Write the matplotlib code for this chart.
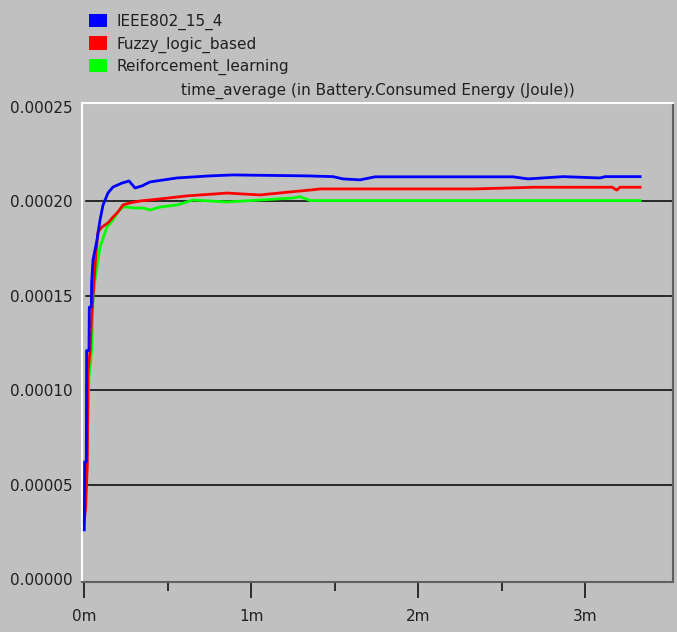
import matplotlib
matplotlib.use('Agg')
import matplotlib.pyplot as plt
from matplotlib.patches import Patch
from matplotlib.ticker import FixedLocator, FuncFormatter

# time in minutes, values in 1e-4 Joule
t_ieee = [0.0, 0.002, 0.012, 0.014, 0.028, 0.030, 0.042, 0.044, 0.052, 0.076, 0.094,
          0.112, 0.142, 0.172, 0.226, 0.268, 0.304, 0.346, 0.394, 0.555, 0.753, 0.891,
          1.334, 1.490, 1.550, 1.652, 1.742, 2.569, 2.659, 2.868, 3.090, 3.120, 3.330]
v_ieee = [0.26, 0.62, 0.62, 1.21, 1.21, 1.44, 1.44, 1.57, 1.69, 1.795, 1.90,
          1.98, 2.045, 2.076, 2.097, 2.108, 2.071, 2.082, 2.103, 2.124, 2.135, 2.140,
          2.135, 2.131, 2.119, 2.114, 2.130, 2.130, 2.119, 2.131, 2.124, 2.131, 2.131]

t_fuzzy = [0.0, 0.008, 0.018, 0.022, 0.034, 0.044, 0.060, 0.070, 0.082, 0.106, 0.142,
           0.172, 0.202, 0.232, 0.274, 0.334, 0.454, 0.615, 0.855, 1.053, 1.233, 1.353,
           1.412, 2.34, 2.70, 3.162, 3.19, 3.21, 3.33]
v_fuzzy = [0.31, 0.38, 0.60, 1.10, 1.20, 1.39, 1.60, 1.73, 1.838, 1.864, 1.886,
           1.917, 1.944, 1.981, 1.992, 2.002, 2.013, 2.029, 2.044, 2.034, 2.05, 2.06,
           2.066, 2.066, 2.075, 2.075, 2.06, 2.075, 2.075]

t_rl = [0.0, 0.010, 0.028, 0.044, 0.052, 0.064, 0.094, 0.136, 0.172, 0.202, 0.232,
        0.256, 0.292, 0.352, 0.394, 0.454, 0.555, 0.651, 0.855, 1.053, 1.251, 1.293,
        1.353, 3.33]
v_rl = [0.297, 0.508, 1.07, 1.213, 1.478, 1.584, 1.758, 1.864, 1.902, 1.944, 1.97,
        1.97, 1.965, 1.965, 1.954, 1.97, 1.981, 2.007, 1.997, 2.007, 2.018, 2.025,
        2.004, 2.004]

labels = ['IEEE802_15_4', 'Fuzzy_logic_based', 'Reiforcement_learning']
colors = ['#0000ff', '#ff0000', '#00ff00']
title = 'time_average (in Battery.Consumed Energy (Joule))'

bg = '#c0c0c0'
fig = plt.figure(figsize=(6.77, 6.32), dpi=100, facecolor=bg)
ax = fig.add_axes([82 / 677, 1 - 582 / 632, (673 - 82) / 677, (582 - 103) / 632])
ax.set_facecolor(bg)

# grid lines
for g in [0.00005, 0.0001, 0.00015, 0.0002]:
    ax.axhline(g, xmin=0.006, color='black', lw=1.1, zorder=1)

series = [(t_rl, v_rl, colors[2]), (t_fuzzy, v_fuzzy, colors[1]), (t_ieee, v_ieee, colors[0])]
for t, v, c in series:
    ax.plot(t, [x * 1e-4 for x in v], color=c, lw=2.0, zorder=3)

ax.set_xlim(-0.0138, 3.527)
ax.set_ylim(-1.6e-6, 2.521e-4)

ax.yaxis.set_major_locator(FixedLocator([0, 0.00005, 0.0001, 0.00015, 0.0002, 0.00025]))
ax.yaxis.set_major_formatter(FuncFormatter(lambda y, p: '%.5f' % y))
ax.xaxis.set_major_locator(FixedLocator([0, 1, 2, 3]))
ax.xaxis.set_minor_locator(FixedLocator([0.5, 1.5, 2.5]))
ax.xaxis.set_major_formatter(FuncFormatter(lambda x, p: '%dm' % x))
ax.tick_params(axis='y', length=0, pad=7, labelsize=11, labelcolor='#202020')
ax.tick_params(axis='x', which='major', length=11.5, width=1.3, color='#202020',
               pad=8, labelsize=11, labelcolor='#202020')
ax.tick_params(axis='x', which='minor', length=6.5, width=1.3, color='#202020')

ax.spines['left'].set_color('white')
ax.spines['top'].set_color('white')
ax.spines['right'].set_color('#606060')
ax.spines['bottom'].set_color('#606060')
for s in ax.spines.values():
    s.set_linewidth(1.5)

ax.set_title(title, fontsize=11, pad=6, color='#202020')

handles = [Patch(facecolor=c, edgecolor='none') for c in colors]
fig.legend(handles, labels, loc='upper left', bbox_to_anchor=(89 / 677, 1 - 14 / 632),
           frameon=False, fontsize=11, handlelength=1.15, handleheight=0.95,
           handletextpad=0.65, labelspacing=0.4, borderpad=0, borderaxespad=0,
           labelcolor='#202020')

plt.savefig('out.png', dpi=100, facecolor=bg)
